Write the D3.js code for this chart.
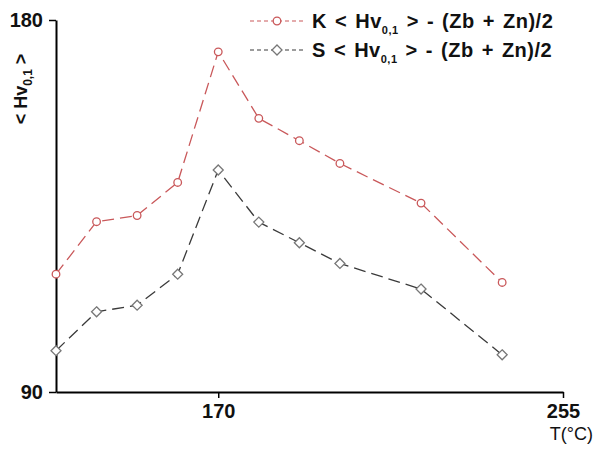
<!DOCTYPE html>
<html>
<head>
<meta charset="utf-8">
<script src="https://cdn.jsdelivr.net/npm/d3@7"></script>
<style>
  body { margin: 0; background: #fff; }
  svg { display: block; font-family: "Liberation Sans", Arial, sans-serif; }
</style>
</head>
<body>
<svg id="chart" width="593" height="459"></svg>
<script>
// temperatures (°C) and the two series
const temps = [130, 140, 150, 160, 170, 180, 190, 200, 220, 240];
const kValues = [118.5, 131.2, 132.7, 140.7, 172.3, 156.2, 150.8, 145.3, 135.7, 116.5];
const sValues = [100.0, 109.4, 111.0, 118.5, 143.7, 131.1, 126.1, 121.1, 114.9, 99.0];
const xTicks = [170, 255];
const yTicks = [90, 180];

const svg = d3.select("#chart");

const x = d3.scaleLinear().domain([130, 255]).range([56, 563]);
const y = d3.scaleLinear().domain([90, 180]).range([392, 20]);

const red = "#c9585a";
const grey = "#3a3a3a";

// axes
svg.append("g")
  .attr("transform", "translate(0,392)")
  .call(d3.axisBottom(x).tickValues(xTicks).tickSize(6).tickPadding(6).tickSizeOuter(0))
  .call(g => g.select(".domain").attr("stroke-width", 2))
  .call(g => g.selectAll(".tick line").attr("stroke-width", 1.5))
  .call(g => g.selectAll("text").attr("font-size", 20).attr("font-weight", "bold").attr("fill", "#111"));

svg.append("g")
  .attr("transform", "translate(56,0)")
  .call(d3.axisLeft(y).tickValues(yTicks).tickSize(7).tickPadding(6).tickSizeOuter(0))
  .call(g => g.select(".domain").attr("stroke-width", 2))
  .call(g => g.selectAll(".tick line").attr("stroke-width", 1.5))
  .call(g => g.selectAll("text").attr("font-size", 20).attr("font-weight", "bold").attr("fill", "#111"));

// axis titles
svg.append("text")
  .attr("x", 593).attr("y", 440)
  .attr("text-anchor", "end")
  .attr("font-size", 18)
  .attr("fill", "#111")
  .text("T(°C)");

const yl = svg.append("text")
  .attr("transform", "translate(27,89) rotate(-90)")
  .attr("text-anchor", "middle")
  .attr("font-size", 18)
  .attr("font-weight", "bold")
  .attr("fill", "#111");
yl.append("tspan").text("< Hv");
yl.append("tspan").attr("font-size", 12).attr("dy", 5).text("0,1");
yl.append("tspan").attr("dy", -5).text(" >");

// series
const series = [
  { name: "K", values: kValues, color: red, marker: "circle" },
  { name: "S", values: sValues, color: grey, marker: "diamond" }
];

const line = d3.line().x(d => x(d[0])).y(d => y(d[1]));

function drawMarker(g, type, color) {
  if (type === "circle") {
    g.append("circle").attr("r", 3.8)
      .attr("fill", "#fff").attr("stroke", color).attr("stroke-width", 1.3);
  } else {
    g.append("path").attr("d", "M0,-5L5,0L0,5L-5,0Z")
      .attr("fill", "#fff").attr("stroke", "#777").attr("stroke-width", 1.3);
  }
}

series.forEach(s => {
  const pts = temps.map((t, i) => [t, s.values[i]]);
  svg.append("path")
    .datum(pts)
    .attr("d", line)
    .attr("fill", "none")
    .attr("stroke", s.color)
    .attr("stroke-width", 1.3)
    .attr("stroke-dasharray", "12,6");
  pts.forEach(p => {
    const g = svg.append("g").attr("transform", `translate(${x(p[0])},${y(p[1])})`);
    drawMarker(g, s.marker, s.color);
  });
});

// legend
const legendY = [21, 50];
series.forEach((s, i) => {
  const g = svg.append("g").attr("transform", `translate(0,${legendY[i]})`);
  g.append("line").attr("x1", 250).attr("x2", 304).attr("y1", 0).attr("y2", 0)
    .attr("stroke", s.color).attr("stroke-width", 1.2).attr("stroke-dasharray", "4,3");
  const m = g.append("g").attr("transform", "translate(277,0)");
  drawMarker(m, s.marker, s.color);
  const t = g.append("text").attr("x", 312).attr("y", 7)
    .attr("font-size", 20).attr("font-weight", "bold").attr("fill", "#111")
    .attr("letter-spacing", 0.5).attr("word-spacing", 2);
  t.append("tspan").text(s.name + " < Hv");
  t.append("tspan").attr("font-size", 11).attr("dy", 6).text("0,1");
  t.append("tspan").attr("dy", -6).text(" > - (Zb + Zn)/2");
});
</script>
</body>
</html>
